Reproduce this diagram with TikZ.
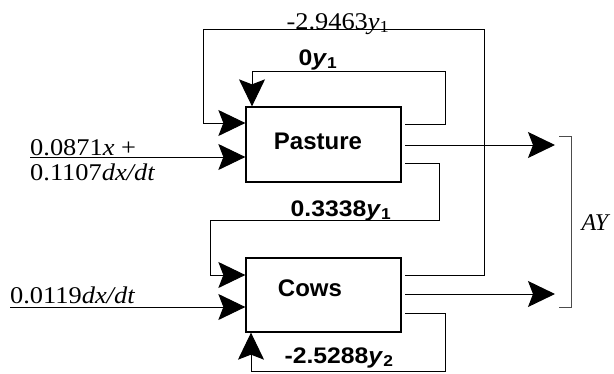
\documentclass[tikz,border=0pt]{standalone}
\usepackage{fontspec}
\setmainfont{Liberation Serif}
\newfontfamily\lsans{Liberation Sans}
\usetikzlibrary{arrows.meta}
\newcommand{\sx}[1]{\scalebox{1.1}[1]{#1}}
\begin{document}
\begin{tikzpicture}[x=1pt,y=1pt,
  box/.style={draw, line width=1.3pt, minimum width=155pt, minimum height=75pt, inner sep=0pt},
  wire/.style={line width=1pt},
  arr/.style={wire, -{Stealth[length=27pt,width=26pt,inset=5pt]}},
  boxtxt/.style={font=\lsans\bfseries\fontsize{24}{24}\selectfont, inner sep=0pt},
  slab/.style={font=\lsans\bfseries\fontsize{22.5}{22.5}\selectfont, inner sep=0pt, anchor=base},
  tlab/.style={font=\fontsize{24}{24}\selectfont, inner sep=0pt, anchor=base west},
]
\useasboundingbox (0,0) rectangle (614,-373);
% boxes
\node[box] (pasture) at (323.5,-144.5) {};
\node[box, minimum height=74pt] (cows) at (323.5,-295) {};
\node[boxtxt] (pt) at (318,-141) {Pasture};
\node[boxtxt] (ct) at (310,-288) {Cows};
% coordinates
\coordinate (pA) at (405,-124);
\coordinate (pB) at (405,-145);
\coordinate (pC) at (405,-163);
\coordinate (cA) at (405,-275);
\coordinate (cB) at (405,-294);
\coordinate (cC) at (405,-313);
\coordinate (i1) at (445,-71);
\coordinate (i2) at (252,-71);
\coordinate (o1) at (484,-29);
\coordinate (o2) at (203,-29);
\coordinate (o3) at (203,-123);
\coordinate (m1) at (439,-220);
\coordinate (m2) at (210,-220);
\coordinate (m3) at (210,-275);
\coordinate (b1) at (445,-371);
\coordinate (b2) at (251,-371);
\coordinate (in1) at (30,-157);
\coordinate (in2) at (10,-307);
\coordinate (e1) at (555,-145);
\coordinate (e2) at (555,-294);
\coordinate (k1) at (559,-136);
\coordinate (k2) at (571,-136);
\coordinate (k3) at (571,-307);
\coordinate (k4) at (559,-307);
% connectors
\draw[arr] (pA) -| (i1) -- (i2) -- (i2 |- pasture.north);
\draw[arr] (cA) -| (o1) -- (o2) -- (o3) -- (o3 -| pasture.west);
\draw[arr] (pC) -| (m1) -- (m2) -- (m3) -- (m3 -| cows.west);
\draw[arr] (cC) -| (b1) -- (b2) -- (b2 |- cows.south);
\draw[arr] (in1) -- (in1 -| pasture.west);
\draw[arr] (in2) -- (in2 -| cows.west);
\draw[arr] (pB) -- (e1);
\draw[arr] (cB) -- (e2);
\draw[line width=0.8pt, black!70] (k1) -- (k2) -- (k3) -- (k4);
% labels
\node[tlab, anchor=base] (l1) at (338,-29) {\sx{-2.9463\textit{y}\textsubscript{1}}};
\node[slab] (l2) at (318,-65) {\sx{0\textit{y}\textsubscript{1}}};
\node[slab] (l3) at (341,-216) {\sx{0.3338\textit{y}\textsubscript{1}}};
\node[slab] (l4) at (339,-363) {\sx{-2.5288\textit{y}\textsubscript{2}}};
\node[tlab] (l5) at (30,-155) {\sx{0.0871\textit{x} +}};
\node[tlab] (l6) at (30,-180) {\sx{0.1107\textit{dx/dt}}};
\node[tlab] (l7) at (10,-303) {\sx{0.0119\textit{dx/dt}}};
\node[font=\fontsize{24}{24}\selectfont, inner sep=0pt, anchor=base] (l8) at (596,-230) {\textit{AY}};
\end{tikzpicture}
\end{document}
